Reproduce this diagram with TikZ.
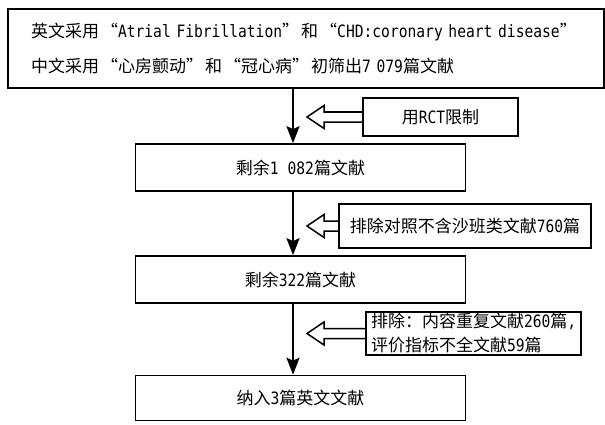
\documentclass[tikz,border=0pt]{standalone}
\usepackage{fontspec}
\setmainfont{Noto Sans CJK SC}
\newfontfamily\latin{DejaVu Sans Mono}[FakeStretch=0.86]
\newcommand{\lat}[1]{{\latin #1}}
\newcommand{\oq}{\kern0.12em“}
\newcommand{\cq}{”\kern0.12em}
\usetikzlibrary{arrows.meta}

\tikzstyle{stage}=[draw, line width=1.6pt, rectangle, minimum width=330pt, minimum height=47pt, inner sep=0pt]
\tikzstyle{filter}=[draw, line width=1.6pt, rectangle, inner sep=0pt]
\tikzstyle{flow}=[line width=2.6pt, -{Stealth[length=17pt, width=13pt, inset=3pt]}]
\tikzstyle{cut}=[line width=1.5pt, line join=miter]

\begin{document}
\begin{tikzpicture}[x=1pt, y=1pt, font=\fontsize{17}{24}\selectfont]
\useasboundingbox (0,0) rectangle (605,424);
\node [stage, minimum width=596pt, minimum height=79pt, text width=550pt, inner xsep=23pt, align=left, font=\fontsize{17}{35}\selectfont] (search) at (306,375.5)
  {英文采用\oq\lat{Atrial Fibrillation}\cq 和\oq\lat{CHD:coronary heart disease}\cq\\
   中文采用\oq 心房颤动\cq 和\oq 冠心病\cq 初筛出\lat{7 079}篇文献};
\node [stage] (rest1) at (300.5,256.5) {剩余\lat{1 082}篇文献};
\node [stage] (rest2) at (300.5,144.5) {剩余\lat{322}篇文献};
\node [stage, minimum height=45pt] (final) at (300.5,26) {纳入\lat{3}篇英文文献};
\node [filter, minimum width=155pt, minimum height=38pt] (rct) at (440.5,307) {用\lat{RCT}限制};
\node [filter, minimum width=252pt, minimum height=44pt] (nocontrol) at (465,198) {排除对照不含沙班类文献\lat{760}篇};
\node [filter, minimum width=215pt, minimum height=43pt, text width=205pt, align=left] (dup) at (473.5,90.5)
  {排除：内容重复文献\lat{260}篇\lat{,}\\评价指标不全文献\lat{59}篇};
\coordinate (axis) at (293,0);
\coordinate (tip) at (307,0);
\coordinate (back) at (324,0);
\draw [flow] (search.south -| axis) -- (rest1.north -| axis);
\draw [flow] (rest1.south -| axis) -- (rest2.north -| axis);
\draw [flow] (rest2.south -| axis) -- (final.north -| axis);
\foreach \nd in {rct, nocontrol, dup}
  \draw [cut] ([yshift=5pt]\nd.west) -- ([yshift=5pt]\nd.west -| back) -- ([yshift=11.5pt]\nd.west -| back)
    -- (\nd.west -| tip) -- ([yshift=-11.5pt]\nd.west -| back) -- ([yshift=-5pt]\nd.west -| back) -- ([yshift=-5pt]\nd.west);
\end{tikzpicture}
\end{document}
